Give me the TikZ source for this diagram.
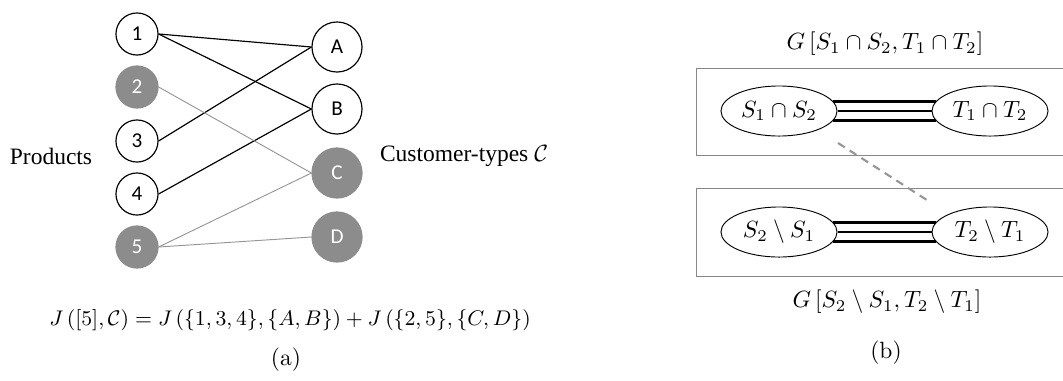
\documentclass[tikz,border=0pt]{standalone}
\usepackage{amsmath}
\usepackage{amssymb}
\usepackage{fontspec}
\usepackage{tikz}
\usetikzlibrary{shapes.geometric}
\newfontfamily\nodefont{Carlito}
\newfontfamily\labelfont{Liberation Serif}
\definecolor{ggray}{RGB}{140,140,140}
\definecolor{egray}{RGB}{150,150,150}
\definecolor{bgray}{RGB}{135,135,135}

\begin{document}
\begin{tikzpicture}[x=0.4255pt,y=-0.4255pt,
    prod/.style={circle,draw,line width=0.5pt,minimum size=17.9pt,inner sep=0pt,font=\nodefont\small},
    cust/.style={circle,draw,line width=0.5pt,minimum size=21.3pt,inner sep=0pt,font=\nodefont\small},
    grey/.style={fill=ggray,draw=ggray,text=white},
    part/.style={ellipse,draw,minimum width=49.4pt,minimum height=21.3pt,inner sep=0pt},
    strong/.style={line width=1.2pt},
    eqn/.style={font=\fontsize{8.9pt}{11pt}\selectfont}]
    \useasboundingbox (0,0) rectangle (1063,380);

    % (a) products and customer-types
    \node[prod] (p1) at (137,34) {1};
    \node[prod,grey] (p2) at (137,87) {2};
    \node[prod] (p3) at (137,141) {3};
    \node[prod] (p4) at (137,194) {4};
    \node[prod,grey] (p5) at (137,247) {5};

    \node[cust] (cA) at (337,47) {A};
    \node[cust] (cB) at (337,109) {B};
    \node[cust,grey] (cC) at (337,173) {C};
    \node[cust,grey] (cD) at (337,237) {D};

    \draw[line width=0.5pt] (p1.east) -- (cA.west);
    \draw[line width=0.5pt] (p1.east) -- (cB.west);
    \draw[line width=0.5pt] (p3.east) -- (cA.west);
    \draw[line width=0.5pt] (p4.east) -- (cB.west);
    \draw[egray] (p2.east) -- (cC.west);
    \draw[egray] (p5.east) -- (cC.west);
    \draw[egray] (p5.east) -- (cD.west);

    \node[font=\labelfont] (prodlbl) at (51,156) {Products};
    \node (custlbl) at (464,156) {\labelfont Customer-types $\mathcal{C}$};

    \node[eqn] (jsplit) at (290,320) {$J\left([5],\mathcal{C}\right)=J\left(\{1,3,4\},\{A,B\}\right)+J\left(\{2,5\},\{C,D\}\right)$};
    \node (capa) at (286,360) {(a)};

    % (b) the two induced subgraphs
    \draw[bgray] (696,68) rectangle (1075,155);
    \draw[bgray] (696,188) rectangle (1075,276);

    \node[part] (S12) at (779,111) {$S_1\cap S_2$};
    \node[part] (T12) at (990,111) {$T_1\cap T_2$};
    \node[part] (S21) at (779,232) {$S_2\setminus S_1$};
    \node[part] (T21) at (990,232) {$T_2\setminus T_1$};

    \foreach \a in {10,0,-10} {
        \draw[strong] (S12.\a) -- (T12.180-\a);
        \draw[strong] (S21.\a) -- (T21.180-\a);
    }

    \coordinate (dashfrom) at (838,143);
    \coordinate (dashto) at (930,202);
    \draw[egray,line width=0.9pt,dash pattern=on 3.4pt off 2.5pt] (dashfrom) -- (dashto);

    \node (toplbl) at (885,44) {$G\left[S_1\cap S_2,T_1\cap T_2\right]$};
    \node (botlbl) at (887,302) {$G\left[S_2\setminus S_1,T_2\setminus T_1\right]$};
    \node (capb) at (886,353) {(b)};
\end{tikzpicture}
\end{document}
